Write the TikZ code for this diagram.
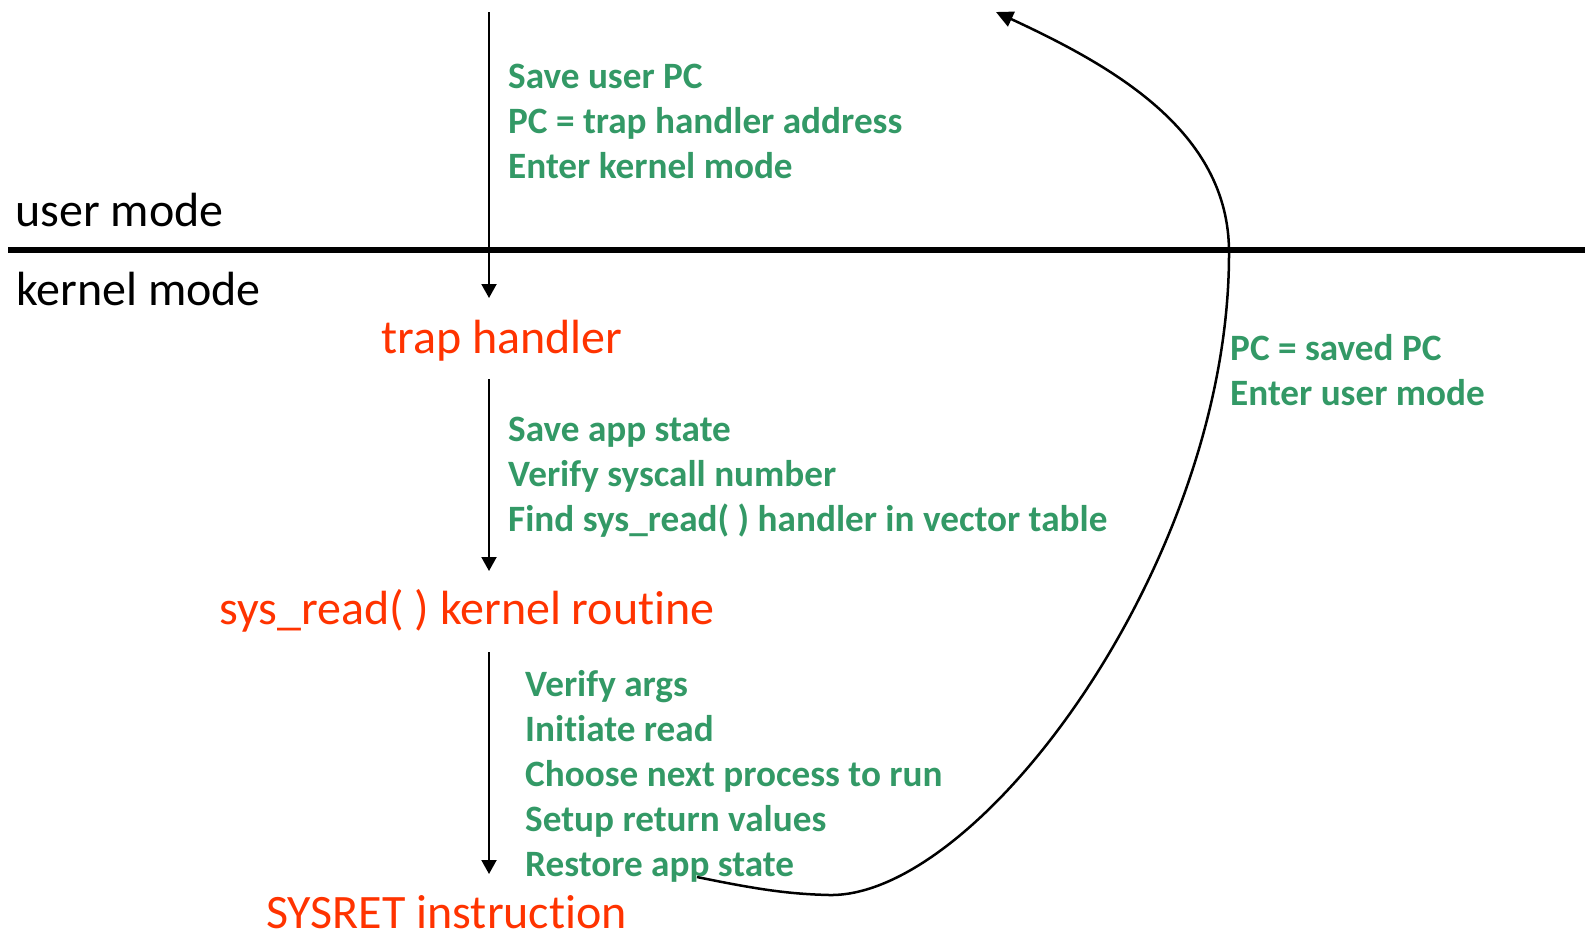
\documentclass[tikz,border=0pt]{standalone}
\usepackage{fontspec}
\setmainfont{Carlito}[Ligatures=NoCommon]
\usetikzlibrary{arrows.meta}

\definecolor{notegreen}{RGB}{51,153,102}
\definecolor{stepred}{RGB}{255,51,0}

\tikzset{
	note/.style={text=notegreen, font=\fontsize{37.2}{44}\selectfont\bfseries, inner sep=0pt, anchor=base west},
	routine/.style={text=stepred, font=\fontsize{48}{58}\selectfont, inner sep=0pt, anchor=base west},
	mode/.style={font=\fontsize{48}{58}\selectfont, inner sep=0pt, anchor=base west},
	flow/.style={line width=2pt, -{Triangle[length=14pt,width=15pt]}},
}

\begin{document}
\begin{tikzpicture}[x=1pt,y=-1pt]

	\useasboundingbox (0,0) rectangle (1585,935);

	% ---- coordinates

	\coordinate (A1) at (489,12);
	\coordinate (A2) at (489,298);
	\coordinate (A3) at (489,379);
	\coordinate (A4) at (489,571);
	\coordinate (A5) at (489,652);
	\coordinate (A6) at (489,874);

	\coordinate (L1) at (8,250);
	\coordinate (L2) at (1585,250);

	\coordinate (R0) at (697,877);
	\coordinate (R1) at (829,895);
	\coordinate (R2) at (1229,252);
	\coordinate (R3) at (996,12);

	% ---- mode boundary

	\draw[line width=5.5pt] (L1) -- (L2);
	\node[mode] (user) at (15,226) {user mode};
	\node[mode] (kernel) at (16,305) {kernel mode};

	% ---- kernel steps

	\node[routine] (trap) at (381,353) {trap handler};
	\node[routine] (sysread) at (219,624) {sys\_read( ) kernel routine};
	\node[routine] (sysret) at (266,928) {SYSRET instruction};

	\draw[flow] (A1) -- (A2);
	\draw[flow] (A3) -- (A4);
	\draw[flow] (A5) -- (A6);

	% ---- notes

	\foreach \t [count=\i from 0] in {Save user PC, PC = trap handler address, Enter kernel mode}
		{ \node[note] (enter\i) at (508,88+45*\i) {\t}; }
	\foreach \t [count=\i from 0] in {Save app state, Verify syscall number, Find sys\_read( ) handler in vector table}
		{ \node[note] (find\i) at (508,441+45*\i) {\t}; }
	\foreach \t [count=\i from 0] in {Verify args, Initiate read, Choose next process to run, Setup return values, Restore app state}
		{ \node[note] (work\i) at (525,696+45*\i) {\t}; }
	\foreach \t [count=\i from 0] in {PC = saved PC, Enter user mode}
		{ \node[note] (back\i) at (1230,360+45*\i) {\t}; }

	% ---- return to user

	\draw[line width=2.5pt, -{Triangle[length=17pt,width=16pt]}]
		(R0) .. controls (760,890) and (790,894) .. (R1)
		.. controls (980,898) and (1230,560) .. (R2)
		.. controls (1229,130) and (1110,65) .. (R3);

\end{tikzpicture}
\end{document}
